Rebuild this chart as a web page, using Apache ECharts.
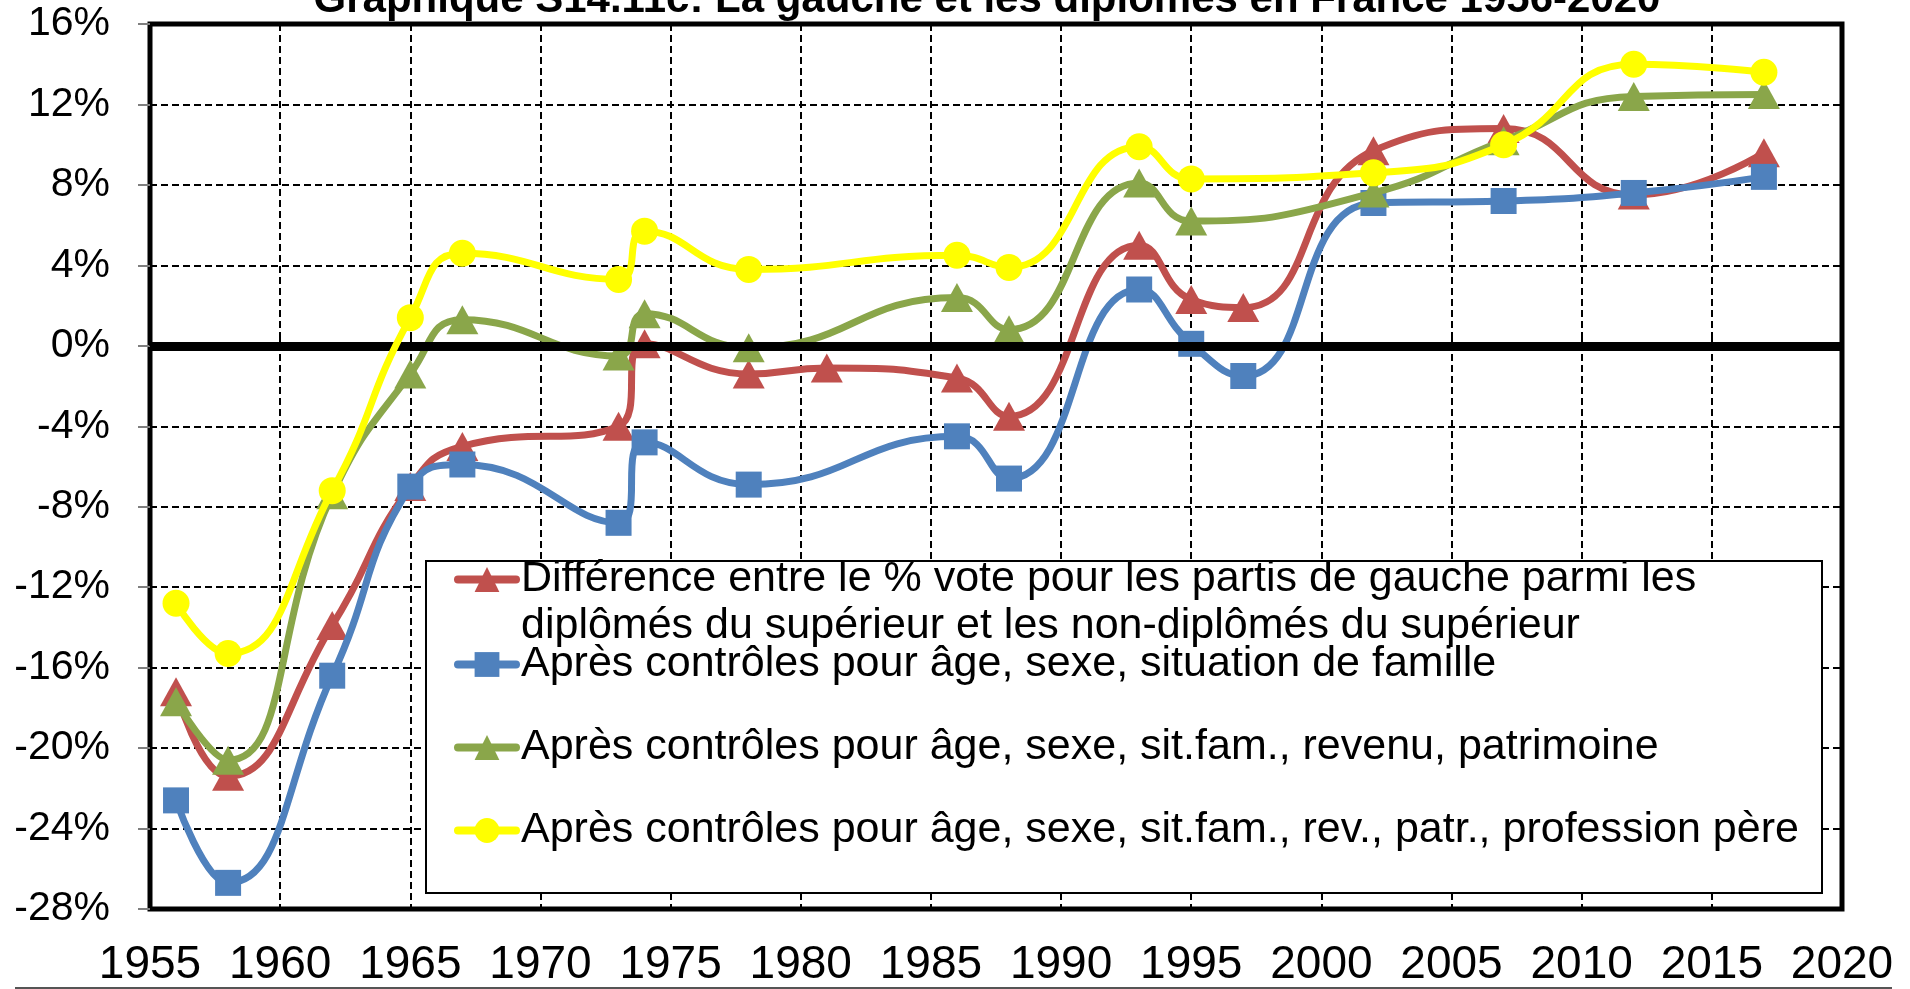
<!DOCTYPE html>
<html>
<head>
<meta charset="utf-8">
<title>La gauche et les diplômés en France 1956-2020</title>
<script src="https://cdn.jsdelivr.net/npm/echarts@6/dist/echarts.min.js"></script>
<style>
  html, body { margin: 0; padding: 0; background: #fff; }
  #chart { width: 1910px; height: 989px; }
</style>
</head>
<body>
<div id="chart"></div>
<script>
var FONT = '"Liberation Sans", Arial, sans-serif'

var titleText = 'Graphique S14.11c: La gauche et les diplômés en France 1956-2020'

// années d'enquête (les séries contrôlées n'ont pas toutes les années)
var yearsDiff = [1956, 1958, 1962, 1965, 1967, 1973, 1974, 1978, 1981, 1986, 1988, 1993, 1995, 1997, 2002, 2007, 2012, 2017]
var yearsCtrl1 = [1956, 1958, 1962, 1965, 1967, 1973, 1974, 1978, 1986, 1988, 1993, 1995, 1997, 2002, 2007, 2012, 2017]
var yearsCtrl2 = [1956, 1958, 1962, 1965, 1967, 1973, 1974, 1978, 1986, 1988, 1993, 1995, 2002, 2007, 2012, 2017]

// valeurs en %
var diffVals = [-17.2, -21.4, -13.9, -7.0, -5.0, -4.0, 0.1, -1.4, -1.1, -1.6, -3.5, 5.0, 2.3, 1.9, 9.7, 10.8, 7.5, 9.6]
var ctrl1Vals = [-22.6, -26.7, -16.4, -7.0, -5.9, -8.8, -4.8, -6.9, -4.5, -6.6, 2.8, 0.1, -1.5, 7.1, 7.2, 7.6, 8.4]
var ctrl2Vals = [-17.7, -20.6, -7.4, -1.4, 1.3, -0.5, 1.6, -0.1, 2.4, 0.8, 8.1, 6.2, 7.6, 10.2, 12.4, 12.5]
var ctrl3Vals = [-12.8, -15.3, -7.2, 1.4, 4.6, 3.3, 5.7, 3.8, 4.5, 3.9, 9.9, 8.3, 8.6, 10.0, 14.0, 13.6]

var names = [
  'Différence entre le % vote pour les partis de gauche parmi les\ndiplômés du supérieur et les non-diplômés du supérieur',
  'Après contrôles pour âge, sexe, situation de famille',
  'Après contrôles pour âge, sexe, sit.fam., revenu, patrimoine',
  'Après contrôles pour âge, sexe, sit.fam., rev., patr., profession père'
]
var colors = ['#C0504D', '#4F81BD', '#8AA64A', '#FFFF00']

// axes
var xMin = 1955, xMax = 2020, xStep = 5
var yMin = -28, yMax = 16, yStep = 4

function pairs(xs, ys) {
  return xs.map(function (x, i) { return [x, ys[i]] })
}

function lineSeries(i, xs, ys, symbol, size) {
  return {
    name: names[i],
    type: 'line',
    data: pairs(xs, ys),
    smooth: 0.5,
    symbol: symbol,
    symbolSize: size,
    showAllSymbol: true,
    lineStyle: { color: colors[i], width: 7 },
    itemStyle: { color: colors[i] },
    emphasis: { disabled: true },
    z: 2 + i
  }
}

function legendFor(i, top, formatter) {
  return {
    data: [names[i]],
    left: 454,
    top: top,
    padding: 0,
    itemWidth: 58,
    itemHeight: 31,
    selectedMode: false,
    formatter: formatter,
    lineStyle: { width: 8, cap: 'round' },
    textStyle: {
      fontFamily: FONT,
      fontSize: 43,
      color: '#000',
      lineHeight: 47
    }
  }
}

var series = [
  lineSeries(0, yearsDiff, diffVals, 'triangle', [32, 29]),
  lineSeries(1, yearsCtrl1, ctrl1Vals, 'rect', 26),
  lineSeries(2, yearsCtrl2, ctrl2Vals, 'triangle', [32, 29]),
  lineSeries(3, yearsCtrl2, ctrl3Vals, 'circle', 27)
]
// ligne du zéro
series[0].markLine = {
  silent: true,
  symbol: ['none', 'none'],
  label: { show: false },
  lineStyle: { color: '#000', width: 9, type: 'solid' },
  data: [{ yAxis: 0 }]
}

var option = {
  animation: false,
  backgroundColor: '#fff',
  grid: {
    left: 150,
    right: 68,
    top: 24,
    bottom: 80,
    show: true,
    borderColor: '#000',
    borderWidth: 5,
    outerBoundsMode: 'none'
  },
  xAxis: {
    type: 'value',
    min: xMin,
    max: xMax,
    interval: xStep,
    axisLine: { show: false },
    axisTick: { show: true, inside: true, length: 13, lineStyle: { color: '#000', width: 2 } },
    axisLabel: {
      fontFamily: FONT,
      fontSize: 46,
      color: '#000',
      margin: 33,
      formatter: function (v) { return String(v) }
    },
    splitLine: { show: true, lineStyle: { color: '#000', width: 2, type: [7, 4] } }
  },
  yAxis: {
    type: 'value',
    min: yMin,
    max: yMax,
    interval: yStep,
    axisLine: { show: false },
    axisTick: { show: true, inside: false, length: 12, lineStyle: { color: '#7f7f7f', width: 2 } },
    axisLabel: {
      fontFamily: FONT,
      fontSize: 41,
      color: '#000',
      margin: 40,
      formatter: function (v) { return v + '%' }
    },
    splitLine: { show: true, lineStyle: { color: '#000', width: 2, type: [7, 4] } }
  },
  legend: [
    // ligne vide au-dessus pour que le symbole soit en face de la 1re ligne
    legendFor(0, 509, function (name) { return '\n' + name }),
    legendFor(1, 641),
    legendFor(2, 724),
    legendFor(3, 807)
  ],
  graphic: {
    elements: [
      {
        type: 'rect',
        z: 3,
        shape: { x: 426, y: 561, width: 1396, height: 332 },
        style: { fill: '#fff', stroke: '#000', lineWidth: 2 }
      },
      {
        type: 'text',
        x: 987,
        y: 0,
        style: {
          text: titleText,
          fontFamily: FONT,
          fontSize: 42,
          fontWeight: 'bold',
          fill: '#000',
          align: 'center',
          verticalAlign: 'middle'
        }
      },
      {
        type: 'line',
        shape: { x1: 15, y1: 988, x2: 1892, y2: 988 },
        style: { stroke: '#555', lineWidth: 2 }
      }
    ]
  },
  series: series
}

var chart = echarts.init(document.getElementById('chart'))
chart.setOption(option)
</script>
</body>
</html>
